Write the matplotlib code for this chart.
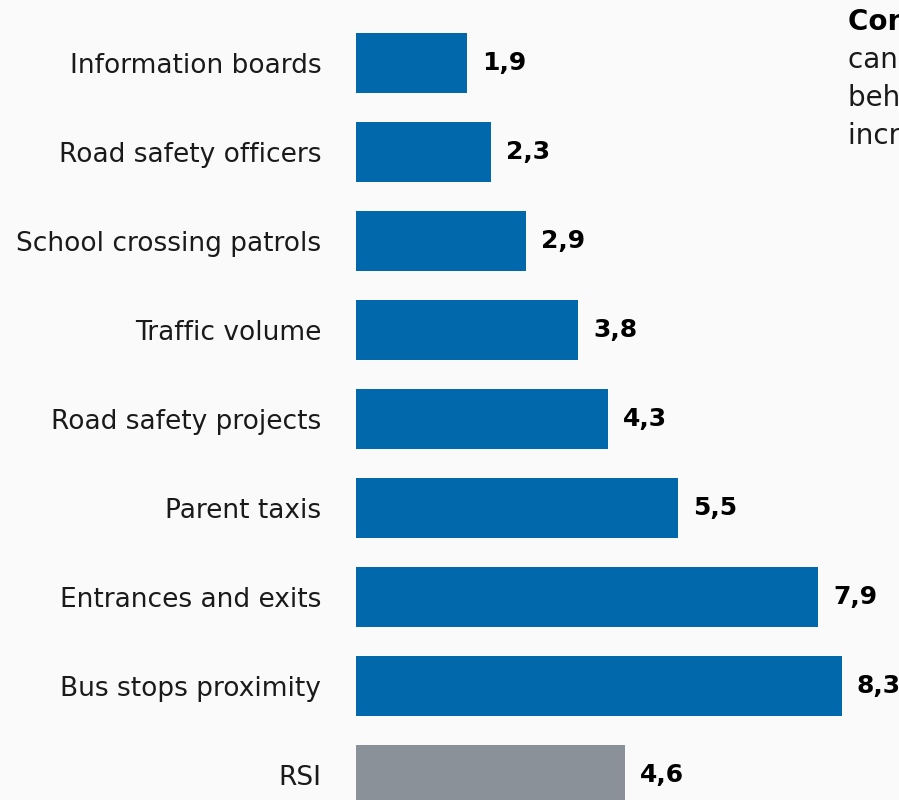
import matplotlib
matplotlib.use("Agg")
import matplotlib.pyplot as plt

#####################################################################
# 데이터
#####################################################################

categories = ["Information boards", "Road safety officers", "School crossing patrols",
              "Traffic volume", "Road safety projects", "Parent taxis",
              "Entrances and exits", "Bus stops proximity", "RSI"]
values = [1.9, 2.3, 2.9, 3.8, 4.3, 5.5, 7.9, 8.3, 4.6]
value_labels = ["1,9", "2,3", "2,9", "3,8", "4,3", "5,5", "7,9", "8,3", "4,6"]
side_lines = ["Contributing factors", "can influence road user",
              "behaviour and may", "increase the risk"]

BLUE = "#0068ab"
GRAY = "#8a9199"
BG = "#fafafa"
TEXT = "#1a1a1a"

colors = [BLUE] * (len(values) - 1) + [GRAY]

plt.rcParams["font.family"] = ["DejaVu Sans"]

#####################################################################
# 그림
#####################################################################

fig = plt.figure(figsize=(8.99, 8.0), dpi=100, facecolor=BG)
ax = fig.add_axes([356 / 899, 0, 543 / 899, 1])
ax.set_facecolor(BG)

ypos = list(range(len(values)))
ax.barh(ypos, values, height=0.674, color=colors)

ax.set_xlim(0, 543 / 58.5)
ax.set_ylim((800 - 63) / 89, -63 / 89)

ax.set_yticks(ypos)
ax.set_yticklabels(categories, fontsize=19, color=TEXT)
ax.tick_params(axis="y", length=0, pad=25)
ax.set_xticks([])
for s in ax.spines.values():
    s.set_visible(False)

# 값 라벨
for y, v, lab in zip(ypos, values, value_labels):
    ax.annotate(lab, xy=(v, y), xytext=(15 * 0.72, 0), textcoords="offset points",
                ha="left", va="center", fontsize=18, fontweight="bold", color="black")

# 오른쪽 위 설명 (잘려 있음)
fig.text(848 / 899, 1 - 22 / 800, side_lines[0], fontsize=20, fontweight="bold",
         color="black", ha="left", va="center")
for i, line in enumerate(side_lines[1:]):
    fig.text(848 / 899, 1 - (60 + 38 * i) / 800, line, fontsize=20,
             color=TEXT, ha="left", va="center")

fig.savefig("out.png", dpi=100, facecolor=BG)
